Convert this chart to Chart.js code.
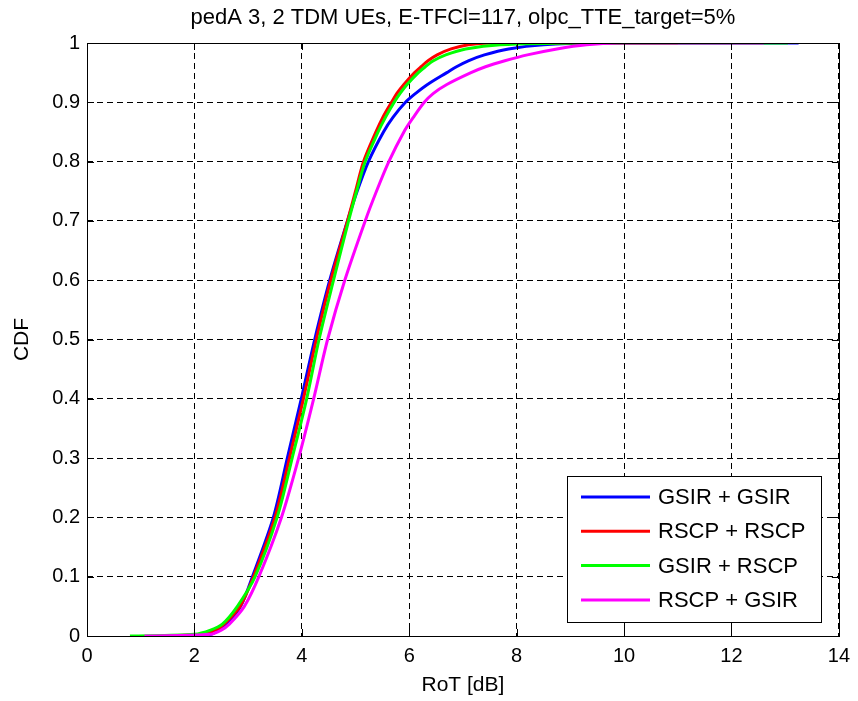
<!DOCTYPE html>
<html>
<head>
<meta charset="utf-8">
<script src="https://cdn.jsdelivr.net/npm/chart.js@4.4.0/dist/chart.umd.js"></script>
<style>
  html, body { margin: 0; padding: 0; background: #fff; }
  #wrap { width: 858px; height: 701px; }
</style>
</head>
<body>
<div id="wrap"><canvas id="cdf-chart" width="858" height="701"></canvas></div>
<script>
// CDF levels shared by all curves (last entry = end of the flat tail at 1)
const cdfLevels = [0, 0.003, 0.01, 0.02, 0.05, 0.1, 0.2, 0.3, 0.4, 0.5, 0.6, 0.7, 0.75, 0.8, 0.85, 0.875, 0.9, 0.915, 0.93, 0.95, 0.96, 0.97, 0.98, 0.99, 0.997, 1, 1];

// RoT [dB] at each CDF level
const rotGsirGsir = [1.7, 2.3, 2.45, 2.6, 2.86, 3.08, 3.47, 3.73, 3.99, 4.24, 4.52, 4.85, 5.03, 5.24, 5.52, 5.7, 5.93, 6.12, 6.34, 6.7, 6.88, 7.1, 7.4, 7.85, 8.5, 9.5, 13.25];
const rotRscpRscp = [1.45, 2.15, 2.4, 2.55, 2.85, 3.1, 3.5, 3.77, 4.03, 4.27, 4.54, 4.85, 5.0, 5.15, 5.38, 5.51, 5.67, 5.77, 5.9, 6.1, 6.22, 6.35, 6.52, 6.78, 7.1, 7.5, 11.0];
const rotGsirRscp = [0.8, 2.0, 2.3, 2.52, 2.8, 3.13, 3.54, 3.82, 4.09, 4.32, 4.59, 4.87, 5.02, 5.18, 5.42, 5.56, 5.72, 5.83, 5.96, 6.17, 6.3, 6.45, 6.68, 7.05, 7.7, 9.2, 13.05];
const rotRscpGsir = [1.07, 2.3, 2.5, 2.65, 2.93, 3.2, 3.62, 3.94, 4.22, 4.48, 4.8, 5.18, 5.39, 5.62, 5.9, 6.08, 6.28, 6.45, 6.7, 7.15, 7.42, 7.78, 8.2, 8.75, 9.3, 9.9, 12.6];

const seriesLabels = ['GSIR + GSIR', 'RSCP + RSCP', 'GSIR + RSCP', 'RSCP + GSIR'];
const seriesColors = ['#0000ff', '#ff0000', '#00ff00', '#ff00ff'];
const seriesValues = [rotGsirGsir, rotRscpRscp, rotGsirRscp, rotRscpGsir];

const xTicks = [0, 2, 4, 6, 8, 10, 12, 14];
const yTicks = [0, 0.1, 0.2, 0.3, 0.4, 0.5, 0.6, 0.7, 0.8, 0.9, 1];

const FONT = "'Liberation Sans', Arial, Helvetica, sans-serif";

const datasets = seriesValues.map((vals, i) => ({
    label: seriesLabels[i],
    data: vals.map((x, k) => ({ x: x, y: cdfLevels[k] })),
    borderColor: seriesColors[i],
    backgroundColor: seriesColors[i],
    borderWidth: 3,
    pointRadius: 0,
    tension: 0.3,
    fill: false,
    order: seriesValues.length - i   // magenta on top, like the original
}));

// frame, inner ticks, title and the boxed legend
const matlabLook = {
    id: 'matlabLook',
    afterDatasetsDraw(chart) {
        const { ctx, chartArea: a, scales } = chart;
        ctx.save();
        ctx.strokeStyle = '#000';
        ctx.lineWidth = 1;
        ctx.setLineDash([]);
        ctx.strokeRect(Math.round(a.left) + 0.5, Math.round(a.top) + 0.5,
                       Math.round(a.right - a.left), Math.round(a.bottom - a.top));

        // small inward ticks on all four sides
        const tl = 7;
        ctx.beginPath();
        xTicks.forEach(v => {
            const px = Math.round(scales.x.getPixelForValue(v)) + 0.5;
            ctx.moveTo(px, a.bottom); ctx.lineTo(px, a.bottom - tl);
            ctx.moveTo(px, a.top); ctx.lineTo(px, a.top + tl);
        });
        yTicks.forEach(v => {
            const py = Math.round(scales.y.getPixelForValue(v)) + 0.5;
            ctx.moveTo(a.left, py); ctx.lineTo(a.left + tl, py);
            ctx.moveTo(a.right, py); ctx.lineTo(a.right - tl, py);
        });
        ctx.stroke();

        // title
        ctx.fillStyle = '#000';
        ctx.font = '22px ' + FONT;
        ctx.textAlign = 'center';
        ctx.textBaseline = 'middle';
        ctx.fillText('pedA 3, 2 TDM UEs, E-TFCl=117, olpc_TTE_target=5%', (a.left + a.right) / 2, 18);

        // legend box
        const box = { left: 567, top: 476, right: 821, bottom: 622 };
        ctx.fillStyle = '#fff';
        ctx.fillRect(box.left, box.top, box.right - box.left, box.bottom - box.top);
        ctx.strokeStyle = '#000';
        ctx.lineWidth = 1;
        ctx.strokeRect(box.left + 0.5, box.top + 0.5, box.right - box.left, box.bottom - box.top);
        ctx.textAlign = 'left';
        ctx.font = '22px ' + FONT;
        chart.data.datasets.forEach((ds, i) => {
            const y = 497 + i * 34.3;
            ctx.strokeStyle = ds.borderColor;
            ctx.lineWidth = 3;
            ctx.beginPath();
            ctx.moveTo(581, y); ctx.lineTo(650, y);
            ctx.stroke();
            ctx.fillStyle = '#000';
            ctx.fillText(ds.label, 658, y + 1);
        });
        ctx.restore();
    }
};

const gridStyle = {
    color: '#000',
    lineWidth: 1,
    drawTicks: false
};

new Chart(document.getElementById('cdf-chart'), {
    type: 'line',
    data: { datasets },
    plugins: [matlabLook],
    options: {
        responsive: false,
        animation: false,
        devicePixelRatio: 1,
        layout: { padding: { top: 43, right: 15, left: 0, bottom: 0 } },
        plugins: {
            legend: { display: false },
            title: { display: false },
            tooltip: { enabled: false }
        },
        scales: {
            x: {
                type: 'linear',
                min: 0,
                max: 14,
                afterBuildTicks(axis) { axis.ticks = xTicks.map(v => ({ value: v })); },
                afterFit(axis) { axis.height = 65; },
                grid: gridStyle,
                border: { display: false, dash: [6, 4] },
                ticks: { color: '#000', padding: 8, font: { family: FONT, size: 20 } },
                title: { display: true, text: 'RoT [dB]', color: '#000', padding: { top: 0, bottom: 3 }, font: { family: FONT, size: 21 } }
            },
            y: {
                type: 'linear',
                min: 0,
                max: 1,
                afterBuildTicks(axis) { axis.ticks = yTicks.map(v => ({ value: v })); },
                afterFit(axis) { axis.width = 87; },
                grid: gridStyle,
                border: { display: false, dash: [6, 4] },
                ticks: {
                    color: '#000',
                    padding: 7,
                    font: { family: FONT, size: 20 },
                    callback: v => (v === 0 || v === 1) ? String(v) : v.toFixed(1)
                },
                title: { display: true, text: 'CDF', color: '#000', padding: { top: 10, bottom: 0 }, font: { family: FONT, size: 21 } }
            }
        }
    }
});
</script>
</body>
</html>
